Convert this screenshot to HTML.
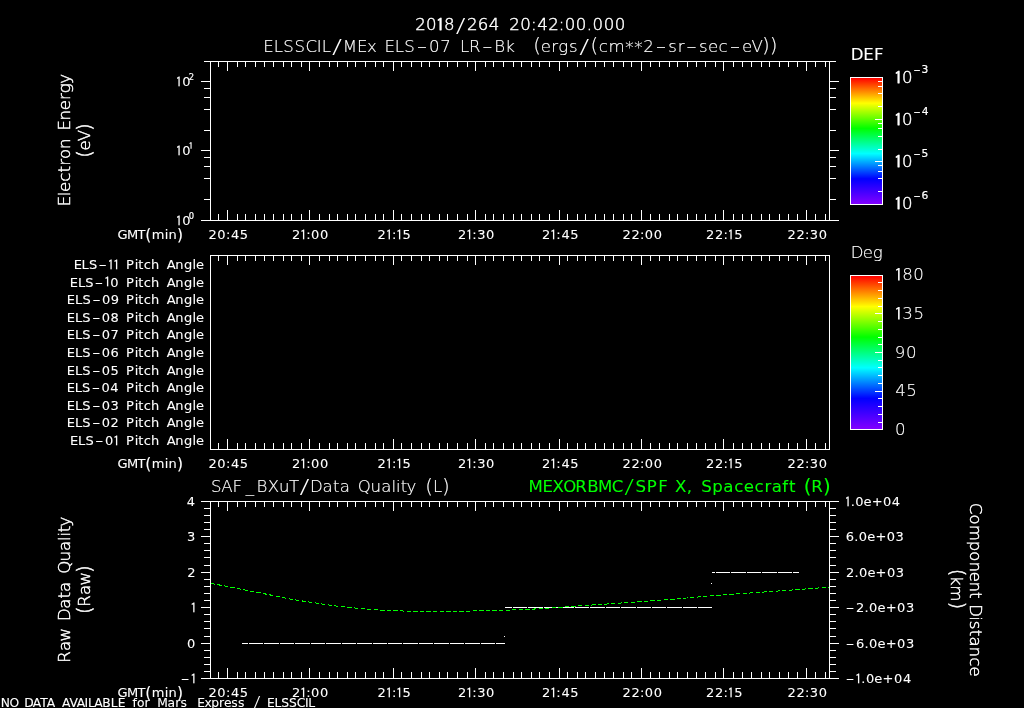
<!DOCTYPE html>
<html lang="en"><head><meta charset="utf-8"><title>ELSSCIL / MEx plot 2018/264 20:42:00.000</title>
<style>
html,body{margin:0;padding:0;background:#000;}
body{width:1024px;height:708px;overflow:hidden;}
svg{display:block;will-change:transform;}
text{font-family:'DejaVu Sans','Liberation Sans',sans-serif;white-space:pre;fill:#fff;stroke:#fff;stroke-width:0.09px;}
.bt{font-weight:200;stroke-width:.15px;}
.bm{font-weight:200;stroke-width:.45px;}
.p{stroke-width:0.2px;}
.z{stroke-width:0;font-weight:200;}
.i{font-family:'IPAGothic','DejaVu Sans','Liberation Sans',sans-serif;}
</style></head><body>
<svg width="1024" height="708" viewBox="0 0 1024 708">
<defs><linearGradient id="rb" x1="0" y1="0" x2="0" y2="1">
<stop offset="0" stop-color="#ff0000"/><stop offset="0.2" stop-color="#ffff00"/><stop offset="0.4" stop-color="#00ff00"/>
<stop offset="0.6" stop-color="#00ffff"/><stop offset="0.8" stop-color="#0000ff"/><stop offset="1" stop-color="#8200ff"/>
</linearGradient></defs>
<rect width="1024" height="708" fill="#000"/>
<rect x="851" y="78" width="31" height="126" fill="url(#rb)"/>
<rect x="850.5" y="77.5" width="32" height="127" fill="none" stroke="#fff" shape-rendering="crispEdges"/>
<rect x="851" y="276" width="31" height="153" fill="url(#rb)"/>
<rect x="850.5" y="275.5" width="32" height="154" fill="none" stroke="#fff" shape-rendering="crispEdges"/>
<text x="415.35 425.99 436.04 443.92 455.71 466.96 477.82 488.81 500.66 509.24 520.16 530.99 537.20 548.22 558.83 564.71 575.84 586.84 592.55 603.69 614.83" y="30.30 30.30 31.18 30.30 31.79 30.30 30.30 30.30 30.30 30.30 30.30 30.30 30.30 30.30 30.30 30.30 30.30 30.30 30.30 30.30 30.30" font-size="16.6" class="bm">20<tspan class="i" font-size="17.26">1</tspan>8<tspan class="z" font-size="20.3" textLength="9.80" lengthAdjust="spacingAndGlyphs">/</tspan>264 20:42:00.000</text>
<text x="263.34 273.78 283.29 294.44 305.40 316.84 321.69 332.10 342.76 356.94 367.06 375.85 384.55 394.87 404.26 416.79 429.11 440.14 451.20 460.11 468.92 482.31 494.28 505.23 515.89 524.74 533.18 540.74 551.17 558.17 569.08 579.31 590.58 598.76 608.51 625.31 634.23 643.35 655.68 668.28 677.68 686.33 698.93 707.93 718.58 729.80 741.93 751.41 762.06 769.86" y="51.60 51.60 51.60 51.60 51.60 51.60 51.60 53.09 51.60 51.60 51.60 51.60 51.60 51.60 51.60 51.60 51.60 51.60 51.60 51.60 51.60 51.60 51.60 51.60 51.60 51.60 52.35 51.60 51.60 51.60 51.60 53.09 52.35 51.60 51.60 53.26 53.26 51.60 51.60 51.60 51.60 51.60 51.60 51.60 51.60 51.60 51.60 51.60 52.35 52.35" font-size="16.6" class="bt">ELSSCIL<tspan class="z" font-size="20.3" textLength="10.03" lengthAdjust="spacingAndGlyphs">/</tspan>MEx ELS<tspan textLength="10.43" lengthAdjust="spacingAndGlyphs">-</tspan>07 LR<tspan textLength="10.29" lengthAdjust="spacingAndGlyphs">-</tspan>Bk  <tspan font-size="19.8">(</tspan>ergs<tspan class="z" font-size="20.3" textLength="10.03" lengthAdjust="spacingAndGlyphs">/</tspan><tspan font-size="19.8">(</tspan>cm**2<tspan textLength="10.54" lengthAdjust="spacingAndGlyphs">-</tspan>sr<tspan textLength="10.54" lengthAdjust="spacingAndGlyphs">-</tspan>sec<tspan textLength="10.54" lengthAdjust="spacingAndGlyphs">-</tspan>eV<tspan font-size="19.8">)</tspan><tspan font-size="19.8">)</tspan></text>
<text x="850.66 863.18 874.11" y="59.80" font-size="16.6">DEF</text>
<text x="850.66 862.76 872.86" y="257.60" font-size="16.6" class="bt">Deg</text>
<text x="894.03 902.08" y="83.98 83.10" font-size="16.6" class="bm"><tspan class="i" font-size="17.26">1</tspan>0</text>
<text x="913.44 921.49" y="73.20" font-size="10.7" class="p"><tspan textLength="7.13" lengthAdjust="spacingAndGlyphs">-</tspan>3</text>
<text x="894.03 902.08" y="125.88 125.00" font-size="16.6" class="bm"><tspan class="i" font-size="17.26">1</tspan>0</text>
<text x="913.44 921.69" y="115.10" font-size="10.7" class="p"><tspan textLength="7.13" lengthAdjust="spacingAndGlyphs">-</tspan>4</text>
<text x="894.03 902.08" y="167.78 166.90" font-size="16.6" class="bm"><tspan class="i" font-size="17.26">1</tspan>0</text>
<text x="913.44 921.53" y="157.00" font-size="10.7" class="p"><tspan textLength="7.13" lengthAdjust="spacingAndGlyphs">-</tspan>5</text>
<text x="894.03 902.08" y="209.68 208.80" font-size="16.6" class="bm"><tspan class="i" font-size="17.26">1</tspan>0</text>
<text x="913.44 921.61" y="198.90" font-size="10.7" class="p"><tspan textLength="7.13" lengthAdjust="spacingAndGlyphs">-</tspan>6</text>
<text x="894.23 902.28 913.34" y="281.18 280.30 280.30" font-size="16.6" class="bt"><tspan class="i" font-size="17.26">1</tspan>80</text>
<text x="894.23 902.31 913.42" y="319.78 318.90 318.90" font-size="16.6" class="bt"><tspan class="i" font-size="17.26">1</tspan>35</text>
<text x="894.77 906.05" y="357.50" font-size="16.6" class="bt">90</text>
<text x="895.33 906.14" y="396.10" font-size="16.6" class="bt">45</text>
<text x="894.99" y="434.70" font-size="16.6" class="bt">0</text>
<text x="175.56 182.13" y="86.79 86.10" font-size="13.0"><tspan class="i" font-size="13.52">1</tspan>0</text>
<text x="188.80" y="79.90" font-size="8.4" class="p">2</text>
<text x="175.56 182.13" y="155.79 155.10" font-size="13.0"><tspan class="i" font-size="13.52">1</tspan>0</text>
<text x="188.65" y="149.35" font-size="8.4" class="p"><tspan class="i" font-size="8.74">1</tspan></text>
<text x="175.56 182.13" y="225.79 225.10" font-size="13.0"><tspan class="i" font-size="13.52">1</tspan>0</text>
<text x="188.69" y="218.90" font-size="8.4" class="p">0</text>
<text x="117.59 126.93 137.53 145.27 151.71 164.78 168.48 176.94" y="239.00 239.00 239.00 239.59 239.00 239.00 239.00 239.59" font-size="13.0">GMT<tspan font-size="15.5">(</tspan>min<tspan font-size="15.5">)</tspan></text>
<text x="208.46 217.25 225.91 230.96 239.71" y="239.00" font-size="13.0">20:45</text>
<text x="292.03 300.07 306.34 311.12 320.08" y="239.00 239.69 239.00 239.00 239.00" font-size="13.0">2<tspan class="i" font-size="13.52">1</tspan>:00</text>
<text x="377.60 385.64 391.91 395.94 402.58" y="239.00 239.69 239.00 239.69 239.00" font-size="13.0">2<tspan class="i" font-size="13.52">1</tspan>:<tspan class="i" font-size="13.52">1</tspan>5</text>
<text x="458.03 466.07 472.34 477.14 486.08" y="239.00 239.69 239.00 239.00 239.00" font-size="13.0">2<tspan class="i" font-size="13.52">1</tspan>:30</text>
<text x="542.03 550.07 556.34 561.39 570.14" y="239.00 239.69 239.00 239.00 239.00" font-size="13.0">2<tspan class="i" font-size="13.52">1</tspan>:45</text>
<text x="622.46 631.42 639.91 644.69 653.65" y="239.00" font-size="13.0">22:00</text>
<text x="706.03 714.99 723.47 727.51 734.14" y="239.00 239.00 239.00 239.69 239.00" font-size="13.0">22:<tspan class="i" font-size="13.52">1</tspan>5</text>
<text x="787.46 796.42 804.91 809.71 818.65" y="239.00" font-size="13.0">22:30</text>
<text x="117.59 126.93 137.53 145.27 151.71 164.78 168.48 176.94" y="468.00 468.00 468.00 468.58 468.00 468.00 468.00 468.58" font-size="13.0">GMT<tspan font-size="15.5">(</tspan>min<tspan font-size="15.5">)</tspan></text>
<text x="208.46 217.25 225.91 230.96 239.71" y="468.00" font-size="13.0">20:45</text>
<text x="292.03 300.07 306.34 311.12 320.08" y="468.00 468.69 468.00 468.00 468.00" font-size="13.0">2<tspan class="i" font-size="13.52">1</tspan>:00</text>
<text x="377.60 385.64 391.91 395.94 402.58" y="468.00 468.69 468.00 468.69 468.00" font-size="13.0">2<tspan class="i" font-size="13.52">1</tspan>:<tspan class="i" font-size="13.52">1</tspan>5</text>
<text x="458.03 466.07 472.34 477.14 486.08" y="468.00 468.69 468.00 468.00 468.00" font-size="13.0">2<tspan class="i" font-size="13.52">1</tspan>:30</text>
<text x="542.03 550.07 556.34 561.39 570.14" y="468.00 468.69 468.00 468.00 468.00" font-size="13.0">2<tspan class="i" font-size="13.52">1</tspan>:45</text>
<text x="622.46 631.42 639.91 644.69 653.65" y="468.00" font-size="13.0">22:00</text>
<text x="706.03 714.99 723.47 727.51 734.14" y="468.00 468.00 468.00 468.69 468.00" font-size="13.0">22:<tspan class="i" font-size="13.52">1</tspan>5</text>
<text x="787.46 796.42 804.91 809.71 818.65" y="468.00" font-size="13.0">22:30</text>
<text x="117.59 126.93 137.53 145.27 151.71 164.78 168.48 176.94" y="697.00 697.00 697.00 697.59 697.00 697.00 697.00 697.59" font-size="13.0">GMT<tspan font-size="15.5">(</tspan>min<tspan font-size="15.5">)</tspan></text>
<text x="208.46 217.25 225.91 230.96 239.71" y="697.00" font-size="13.0">20:45</text>
<text x="292.03 300.07 306.34 311.12 320.08" y="697.00 697.69 697.00 697.00 697.00" font-size="13.0">2<tspan class="i" font-size="13.52">1</tspan>:00</text>
<text x="377.60 385.64 391.91 395.94 402.58" y="697.00 697.69 697.00 697.69 697.00" font-size="13.0">2<tspan class="i" font-size="13.52">1</tspan>:<tspan class="i" font-size="13.52">1</tspan>5</text>
<text x="458.03 466.07 472.34 477.14 486.08" y="697.00 697.69 697.00 697.00 697.00" font-size="13.0">2<tspan class="i" font-size="13.52">1</tspan>:30</text>
<text x="542.03 550.07 556.34 561.39 570.14" y="697.00 697.69 697.00 697.00 697.00" font-size="13.0">2<tspan class="i" font-size="13.52">1</tspan>:45</text>
<text x="622.46 631.42 639.91 644.69 653.65" y="697.00" font-size="13.0">22:00</text>
<text x="706.03 714.99 723.47 727.51 734.14" y="697.00 697.00 697.00 697.69 697.00" font-size="13.0">22:<tspan class="i" font-size="13.52">1</tspan>5</text>
<text x="787.46 796.42 804.91 809.71 818.65" y="697.00" font-size="13.0">22:30</text>
<text x="73.64 81.61 88.88 98.46 107.44 112.97 121.34 126.08 134.65 138.21 143.72 151.07 160.55 166.68 175.34 183.97 192.39 196.07" y="269.00 269.00 269.00 269.00 269.69 269.69 269.00 269.00 269.00 269.00 269.00 269.00 269.00 269.00 269.00 269.00 269.00 269.00" font-size="13.0">ELS<tspan textLength="8.37" lengthAdjust="spacingAndGlyphs">-</tspan><tspan class="i" font-size="13.52">1</tspan><tspan class="i" font-size="13.52">1</tspan> Pitch Angle</text>
<text x="69.86 77.90 85.22 94.85 103.93 110.16 120.68 126.08 134.65 138.21 143.72 151.07 160.55 166.68 175.34 183.97 192.39 196.07" y="286.60 286.60 286.60 286.60 287.29 286.60 286.60 286.60 286.60 286.60 286.60 286.60 286.60 286.60 286.60 286.60 286.60 286.60" font-size="13.0">ELS<tspan textLength="8.43" lengthAdjust="spacingAndGlyphs">-</tspan><tspan class="i" font-size="13.52">1</tspan>0 Pitch Angle</text>
<text x="66.81 74.98 82.43 92.17 102.12 110.68 120.72 126.08 134.65 138.21 143.72 151.07 160.55 166.68 175.34 183.97 192.39 196.07" y="304.20" font-size="13.0">ELS<tspan textLength="8.55" lengthAdjust="spacingAndGlyphs">-</tspan>09 Pitch Angle</text>
<text x="66.78 74.89 82.27 91.95 101.79 110.44 120.72 126.08 134.65 138.21 143.72 151.07 160.55 166.68 175.34 183.97 192.39 196.07" y="321.80" font-size="13.0">ELS<tspan textLength="8.49" lengthAdjust="spacingAndGlyphs">-</tspan>08 Pitch Angle</text>
<text x="66.78 74.89 82.27 91.95 101.79 110.46 120.72 126.08 134.65 138.21 143.72 151.07 160.55 166.68 175.34 183.97 192.39 196.07" y="339.40" font-size="13.0">ELS<tspan textLength="8.49" lengthAdjust="spacingAndGlyphs">-</tspan>07 Pitch Angle</text>
<text x="66.78 74.89 82.27 91.95 101.79 110.61 120.72 126.08 134.65 138.21 143.72 151.07 160.55 166.68 175.34 183.97 192.39 196.07" y="357.00" font-size="13.0">ELS<tspan textLength="8.49" lengthAdjust="spacingAndGlyphs">-</tspan>06 Pitch Angle</text>
<text x="66.78 74.89 82.27 91.95 101.79 110.50 120.72 126.08 134.65 138.21 143.72 151.07 160.55 166.68 175.34 183.97 192.39 196.07" y="374.60" font-size="13.0">ELS<tspan textLength="8.49" lengthAdjust="spacingAndGlyphs">-</tspan>05 Pitch Angle</text>
<text x="66.76 74.79 82.11 91.74 101.46 110.30 120.72 126.08 134.65 138.21 143.72 151.07 160.55 166.68 175.34 183.97 192.39 196.07" y="392.20" font-size="13.0">ELS<tspan textLength="8.42" lengthAdjust="spacingAndGlyphs">-</tspan>04 Pitch Angle</text>
<text x="66.78 74.89 82.27 91.95 101.79 110.46 120.72 126.08 134.65 138.21 143.72 151.07 160.55 166.68 175.34 183.97 192.39 196.07" y="409.80" font-size="13.0">ELS<tspan textLength="8.49" lengthAdjust="spacingAndGlyphs">-</tspan>03 Pitch Angle</text>
<text x="66.78 74.89 82.27 91.95 101.79 110.61 120.72 126.08 134.65 138.21 143.72 151.07 160.55 166.68 175.34 183.97 192.39 196.07" y="427.40" font-size="13.0">ELS<tspan textLength="8.49" lengthAdjust="spacingAndGlyphs">-</tspan>02 Pitch Angle</text>
<text x="69.89 78.01 85.41 95.10 104.97 112.95 120.68 126.08 134.65 138.21 143.72 151.07 160.55 166.68 175.34 183.97 192.39 196.07" y="445.00 445.00 445.00 445.00 445.00 445.69 445.00 445.00 445.00 445.00 445.00 445.00 445.00 445.00 445.00 445.00 445.00 445.00" font-size="13.0">ELS<tspan textLength="8.50" lengthAdjust="spacingAndGlyphs">-</tspan>0<tspan class="i" font-size="13.52">1</tspan> Pitch Angle</text>
<text x="186.85" y="505.90" font-size="13.0">4</text>
<text x="187.05" y="541.30" font-size="13.0">3</text>
<text x="187.20" y="576.70" font-size="13.0">2</text>
<text x="190.32" y="612.79" font-size="13.0"><tspan class="i" font-size="13.52">1</tspan></text>
<text x="187.03" y="647.50" font-size="13.0">0</text>
<text x="180.75 190.32" y="682.90 683.59" font-size="13.0"><tspan textLength="8.74" lengthAdjust="spacingAndGlyphs">-</tspan><tspan class="i" font-size="13.52">1</tspan></text>
<text x="844.62 850.83 855.25 863.59 871.68 882.95 891.87" y="506.59 505.90 505.90 505.90 505.90 505.90 505.90" font-size="13.0"><tspan class="i" font-size="13.52">1</tspan>.0e+04</text>
<text x="845.68 854.17 858.68 867.15 875.39 886.80 895.61" y="541.30" font-size="13.0">6.0e+03</text>
<text x="846.09 854.53 859.00 867.40 875.56 886.90 895.64" y="576.70" font-size="13.0">2.0e+03</text>
<text x="845.74 855.96 864.46 868.98 877.45 885.68 897.10 905.91" y="612.10" font-size="13.0"><tspan textLength="8.60" lengthAdjust="spacingAndGlyphs">-</tspan>2.0e+03</text>
<text x="845.74 855.96 864.46 868.98 877.45 885.68 897.10 905.91" y="647.50" font-size="13.0"><tspan textLength="8.60" lengthAdjust="spacingAndGlyphs">-</tspan>6.0e+03</text>
<text x="845.74 855.07 861.36 865.88 874.34 882.56 893.97 903.02" y="682.90 683.59 682.90 682.90 682.90 682.90 682.90 682.90" font-size="13.0"><tspan textLength="8.59" lengthAdjust="spacingAndGlyphs">-</tspan><tspan class="i" font-size="13.52">1</tspan>.0e+04</text>
<text x="210.93 221.16 232.56 245.87 256.46 267.81 279.10 288.96 299.59 310.09 322.52 332.96 339.74 349.54 357.83 370.58 381.28 391.60 396.06 400.67 406.56 415.75 425.24 432.93 442.05" y="491.90 491.90 491.90 491.90 491.90 491.90 491.90 491.90 493.39 491.90 491.90 491.90 491.90 491.90 491.90 491.90 491.90 491.90 491.90 491.90 491.90 491.90 492.65 491.90 492.65" font-size="16.6" class="bt">SAF_BXuT<tspan class="z" font-size="20.3" textLength="10.00" lengthAdjust="spacingAndGlyphs">/</tspan>Data Quality <tspan font-size="19.8">(</tspan>L<tspan font-size="19.8">)</tspan></text>
<text x="528.61 542.55 552.52 563.14 575.36 587.26 598.05 611.71 624.34 635.40 646.70 658.34 669.10 675.05 686.76 691.68 701.29 712.34 723.21 734.24 743.76 754.51 764.43 771.65 782.22 788.97 793.95 803.68 811.14 823.02" y="491.90 491.90 491.90 491.90 491.90 491.90 491.90 491.90 493.39 491.90 491.90 491.90 491.90 491.90 491.90 491.90 491.90 491.90 491.90 491.90 491.90 491.90 491.90 491.90 491.90 491.90 491.90 492.65 491.90 492.65" font-size="16.6" style="fill:#00ff00;stroke:#00ff00">MEXORBMC<tspan class="z" font-size="20.3" textLength="9.86" lengthAdjust="spacingAndGlyphs">/</tspan>SPF X, Spacecraft <tspan font-size="19.8">(</tspan>R<tspan font-size="19.8">)</tspan></text>
<text x="0.66 9.39 18.60 24.20 32.76 40.19 46.71 54.24 62.05 69.39 76.72 84.40 87.92 94.23 102.19 110.73 117.76 124.96 132.59 137.11 144.40 150.51 157.22 167.41 175.16 180.45 187.25 197.28 204.48 211.29 219.05 223.88 231.36 238.09 245.78 253.15 261.40 267.07 274.45 281.18 289.06 296.80 305.01 308.34" y="706.80 706.80 706.80 706.80 706.80 706.80 706.80 706.80 706.80 706.80 706.80 706.80 706.80 706.80 706.80 706.80 706.80 706.80 706.80 706.80 706.80 706.80 706.80 706.80 706.80 706.80 706.80 706.80 706.80 706.80 706.80 706.80 706.80 706.80 706.80 707.91 706.80 706.80 706.80 706.80 706.80 706.80 706.80 706.80" font-size="12.3">NO DATA AVAILABLE for Mars Express <tspan class="z" font-size="15.0" textLength="7.21" lengthAdjust="spacingAndGlyphs">/</tspan> ELSSCIL</text>
<g transform="translate(70.20,139.65) rotate(-90)"><text x="-66.49 -56.55 -52.38 -42.09 -32.80 -26.17 -19.30 -9.31 1.43 9.25 19.24 29.47 39.66 46.45 56.01" y="0.00" font-size="16.6" class="bm">Electron Energy</text></g>
<g transform="translate(90.40,140.50) rotate(-90)"><text x="-17.28 -9.98 -0.81 9.57" y="0.75 0.00 0.00 0.75" font-size="16.6" class="bm"><tspan font-size="19.8">(</tspan>eV<tspan font-size="19.8">)</tspan></text></g>
<g transform="translate(70.20,589.10) rotate(-90)"><text x="-73.57 -61.80 -52.42 -39.69 -31.83 -19.68 -9.49 -2.94 7.29 15.34 27.73 38.10 48.18 52.50 56.93 62.59" y="0.00" font-size="16.6" class="bm">Raw Data Quality</text></g>
<g transform="translate(90.40,589.60) rotate(-90)"><text x="-24.30 -17.14 -5.37 4.01 16.59" y="0.75 0.00 0.00 0.00 0.75" font-size="16.6" class="bm"><tspan font-size="19.8">(</tspan>Raw<tspan font-size="19.8">)</tspan></text></g>
<g transform="translate(969.50,589.65) rotate(90)"><text x="-86.88 -75.28 -65.00 -48.84 -38.29 -28.19 -17.94 -8.06 2.40 8.27 14.53 26.51 31.22 40.17 46.74 56.82 67.64 76.78" y="0.00" font-size="16.6" class="bm">Component Distance</text></g>
<g transform="translate(951.30,588.90) rotate(90)"><text x="-20.25 -13.10 -3.54 12.54" y="0.75 0.00 0.00 0.75" font-size="16.6" class="bm"><tspan font-size="19.8">(</tspan>km<tspan font-size="19.8">)</tspan></text></g>
<path d="M242 643.5H248M249 643.5H263M264 643.5H279M280 643.5H294M295 643.5H310M311 643.5H325M326 643.5H341M342 643.5H356M357 643.5H372M373 643.5H387M388 643.5H402M403 643.5H418M419 643.5H433M434 643.5H449M450 643.5H464M465 643.5H480M481 643.5H495M496 643.5H505M505 607.5H512M513 607.5H527M528 607.5H543M544 607.5H558M559 607.5H574M575 607.5H589M590 607.5H605M606 607.5H620M621 607.5H636M637 607.5H651M652 607.5H666M667 607.5H682M683 607.5H697M698 607.5H712M712 572.5H715M716 572.5H730M731 572.5H746M747 572.5H761M762 572.5H777M778 572.5H792M793 572.5H799" stroke="#fff" fill="none" shape-rendering="crispEdges"/>
<rect x="504" y="636" width="1" height="1" fill="#fff"/><rect x="711" y="583" width="1" height="1" fill="#fff"/>
<path d="M210.9 583.4 L231.2 587.2 L262.5 593.4 L293.8 599.7 L325.0 604.4 L340.6 606.6 L356.2 608.1 L375.0 609.7 L393.8 610.9 L418.8 611.2 L450.0 611.2 L481.2 610.9 L501.7 610.4 L518.8 609.6 L533.2 609.1 L566.4 606.8 L599.6 604.5 L632.8 602.2 L666.0 599.8 L699.2 596.9 L732.4 594.2 L765.6 591.9 L798.8 589.5 L828.7 587.2" stroke="#00ff00" fill="none" stroke-dasharray="4.3 2.3" shape-rendering="crispEdges"/>
<path d="M210 61.5H830M210 220.5H830M210.5 61V221M829.5 61V221M218.5 61V67M218.5 214V221M227.5 61V71M227.5 210V221M237.5 61V67M237.5 214V221M245.5 61V67M245.5 214V221M255.5 61V67M255.5 214V221M264.5 61V67M264.5 214V221M273.5 61V67M273.5 214V221M283.5 61V67M283.5 214V221M291.5 61V67M291.5 214V221M301.5 61V67M301.5 214V221M309.5 61V71M309.5 210V221M319.5 61V67M319.5 214V221M329.5 61V67M329.5 214V221M337.5 61V67M337.5 214V221M347.5 61V67M347.5 214V221M355.5 61V67M355.5 214V221M365.5 61V67M365.5 214V221M375.5 61V67M375.5 214V221M383.5 61V67M383.5 214V221M393.5 61V71M393.5 210V221M401.5 61V67M401.5 214V221M411.5 61V67M411.5 214V221M421.5 61V67M421.5 214V221M429.5 61V67M429.5 214V221M439.5 61V67M439.5 214V221M447.5 61V67M447.5 214V221M457.5 61V67M457.5 214V221M467.5 61V67M467.5 214V221M475.5 61V71M475.5 210V221M485.5 61V67M485.5 214V221M493.5 61V67M493.5 214V221M503.5 61V67M503.5 214V221M513.5 61V67M513.5 214V221M521.5 61V67M521.5 214V221M531.5 61V67M531.5 214V221M539.5 61V67M539.5 214V221M549.5 61V67M549.5 214V221M559.5 61V71M559.5 210V221M567.5 61V67M567.5 214V221M577.5 61V67M577.5 214V221M585.5 61V67M585.5 214V221M595.5 61V67M595.5 214V221M604.5 61V67M604.5 214V221M613.5 61V67M613.5 214V221M623.5 61V67M623.5 214V221M631.5 61V67M631.5 214V221M641.5 61V71M641.5 210V221M650.5 61V67M650.5 214V221M659.5 61V67M659.5 214V221M669.5 61V67M669.5 214V221M677.5 61V67M677.5 214V221M687.5 61V67M687.5 214V221M696.5 61V67M696.5 214V221M705.5 61V67M705.5 214V221M715.5 61V67M715.5 214V221M723.5 61V71M723.5 210V221M733.5 61V67M733.5 214V221M742.5 61V67M742.5 214V221M751.5 61V67M751.5 214V221M761.5 61V67M761.5 214V221M769.5 61V67M769.5 214V221M779.5 61V67M779.5 214V221M788.5 61V67M788.5 214V221M797.5 61V67M797.5 214V221M806.5 61V71M806.5 210V221M815.5 61V67M815.5 214V221M825.5 61V67M825.5 214V221M201 220.5H211M829 220.5H839M204 199.5H211M829 199.5H836M204 178.5H211M829 178.5H836M204 166.5H211M829 166.5H836M204 157.5H211M829 157.5H836M201 150.5H211M829 150.5H839M204 130.5H211M829 130.5H836M204 109.5H211M829 109.5H836M204 97.5H211M829 97.5H836M204 88.5H211M829 88.5H836M201 81.5H211M829 81.5H839M204 61.5H211M829 61.5H836M210 255.5H830M210 449.5H830M210.5 255V450M829.5 255V450M218.5 255V261M218.5 443V450M227.5 255V265M227.5 439V450M237.5 255V261M237.5 443V450M245.5 255V261M245.5 443V450M255.5 255V261M255.5 443V450M264.5 255V261M264.5 443V450M273.5 255V261M273.5 443V450M283.5 255V261M283.5 443V450M291.5 255V261M291.5 443V450M301.5 255V261M301.5 443V450M309.5 255V265M309.5 439V450M319.5 255V261M319.5 443V450M329.5 255V261M329.5 443V450M337.5 255V261M337.5 443V450M347.5 255V261M347.5 443V450M355.5 255V261M355.5 443V450M365.5 255V261M365.5 443V450M375.5 255V261M375.5 443V450M383.5 255V261M383.5 443V450M393.5 255V265M393.5 439V450M401.5 255V261M401.5 443V450M411.5 255V261M411.5 443V450M421.5 255V261M421.5 443V450M429.5 255V261M429.5 443V450M439.5 255V261M439.5 443V450M447.5 255V261M447.5 443V450M457.5 255V261M457.5 443V450M467.5 255V261M467.5 443V450M475.5 255V265M475.5 439V450M485.5 255V261M485.5 443V450M493.5 255V261M493.5 443V450M503.5 255V261M503.5 443V450M513.5 255V261M513.5 443V450M521.5 255V261M521.5 443V450M531.5 255V261M531.5 443V450M539.5 255V261M539.5 443V450M549.5 255V261M549.5 443V450M559.5 255V265M559.5 439V450M567.5 255V261M567.5 443V450M577.5 255V261M577.5 443V450M585.5 255V261M585.5 443V450M595.5 255V261M595.5 443V450M604.5 255V261M604.5 443V450M613.5 255V261M613.5 443V450M623.5 255V261M623.5 443V450M631.5 255V261M631.5 443V450M641.5 255V265M641.5 439V450M650.5 255V261M650.5 443V450M659.5 255V261M659.5 443V450M669.5 255V261M669.5 443V450M677.5 255V261M677.5 443V450M687.5 255V261M687.5 443V450M696.5 255V261M696.5 443V450M705.5 255V261M705.5 443V450M715.5 255V261M715.5 443V450M723.5 255V265M723.5 439V450M733.5 255V261M733.5 443V450M742.5 255V261M742.5 443V450M751.5 255V261M751.5 443V450M761.5 255V261M761.5 443V450M769.5 255V261M769.5 443V450M779.5 255V261M779.5 443V450M788.5 255V261M788.5 443V450M797.5 255V261M797.5 443V450M806.5 255V265M806.5 439V450M815.5 255V261M815.5 443V450M825.5 255V261M825.5 443V450M210 501.5H830M210 678.5H830M210.5 501V679M829.5 501V679M218.5 501V507M218.5 672V679M227.5 501V511M227.5 668V679M237.5 501V507M237.5 672V679M245.5 501V507M245.5 672V679M255.5 501V507M255.5 672V679M264.5 501V507M264.5 672V679M273.5 501V507M273.5 672V679M283.5 501V507M283.5 672V679M291.5 501V507M291.5 672V679M301.5 501V507M301.5 672V679M309.5 501V511M309.5 668V679M319.5 501V507M319.5 672V679M329.5 501V507M329.5 672V679M337.5 501V507M337.5 672V679M347.5 501V507M347.5 672V679M355.5 501V507M355.5 672V679M365.5 501V507M365.5 672V679M375.5 501V507M375.5 672V679M383.5 501V507M383.5 672V679M393.5 501V511M393.5 668V679M401.5 501V507M401.5 672V679M411.5 501V507M411.5 672V679M421.5 501V507M421.5 672V679M429.5 501V507M429.5 672V679M439.5 501V507M439.5 672V679M447.5 501V507M447.5 672V679M457.5 501V507M457.5 672V679M467.5 501V507M467.5 672V679M475.5 501V511M475.5 668V679M485.5 501V507M485.5 672V679M493.5 501V507M493.5 672V679M503.5 501V507M503.5 672V679M513.5 501V507M513.5 672V679M521.5 501V507M521.5 672V679M531.5 501V507M531.5 672V679M539.5 501V507M539.5 672V679M549.5 501V507M549.5 672V679M559.5 501V511M559.5 668V679M567.5 501V507M567.5 672V679M577.5 501V507M577.5 672V679M585.5 501V507M585.5 672V679M595.5 501V507M595.5 672V679M604.5 501V507M604.5 672V679M613.5 501V507M613.5 672V679M623.5 501V507M623.5 672V679M631.5 501V507M631.5 672V679M641.5 501V511M641.5 668V679M650.5 501V507M650.5 672V679M659.5 501V507M659.5 672V679M669.5 501V507M669.5 672V679M677.5 501V507M677.5 672V679M687.5 501V507M687.5 672V679M696.5 501V507M696.5 672V679M705.5 501V507M705.5 672V679M715.5 501V507M715.5 672V679M723.5 501V511M723.5 668V679M733.5 501V507M733.5 672V679M742.5 501V507M742.5 672V679M751.5 501V507M751.5 672V679M761.5 501V507M761.5 672V679M769.5 501V507M769.5 672V679M779.5 501V507M779.5 672V679M788.5 501V507M788.5 672V679M797.5 501V507M797.5 672V679M806.5 501V511M806.5 668V679M815.5 501V507M815.5 672V679M825.5 501V507M825.5 672V679M201 501.5H211M829 501.5H839M204 508.5H211M829 508.5H836M204 515.5H211M829 515.5H836M204 522.5H211M829 522.5H836M204 529.5H211M829 529.5H836M201 536.5H211M829 536.5H839M204 543.5H211M829 543.5H836M204 550.5H211M829 550.5H836M204 557.5H211M829 557.5H836M204 565.5H211M829 565.5H836M201 572.5H211M829 572.5H839M204 579.5H211M829 579.5H836M204 586.5H211M829 586.5H836M204 593.5H211M829 593.5H836M204 600.5H211M829 600.5H836M201 607.5H211M829 607.5H839M204 614.5H211M829 614.5H836M204 621.5H211M829 621.5H836M204 628.5H211M829 628.5H836M204 636.5H211M829 636.5H836M201 643.5H211M829 643.5H839M204 650.5H211M829 650.5H836M204 657.5H211M829 657.5H836M204 664.5H211M829 664.5H836M204 671.5H211M829 671.5H836M201 678.5H211M829 678.5H839M878 81.5H883M878 86.5H883M878 93.5H883M878 106.5H883M875 119.5H883M878 123.5H883M878 128.5H883M878 136.5H883M878 149.5H883M875 161.5H883M878 165.5H883M878 171.5H883M878 178.5H883M878 191.5H883M878 282.5H883M878 290.5H883M878 298.5H883M878 306.5H883M875 313.5H883M878 321.5H883M878 329.5H883M878 337.5H883M878 344.5H883M875 352.5H883M878 360.5H883M878 367.5H883M878 375.5H883M878 383.5H883M875 391.5H883M878 398.5H883M878 406.5H883M878 414.5H883M878 422.5H883" stroke="#fff" fill="none" shape-rendering="crispEdges"/>
</svg>
</body></html>
